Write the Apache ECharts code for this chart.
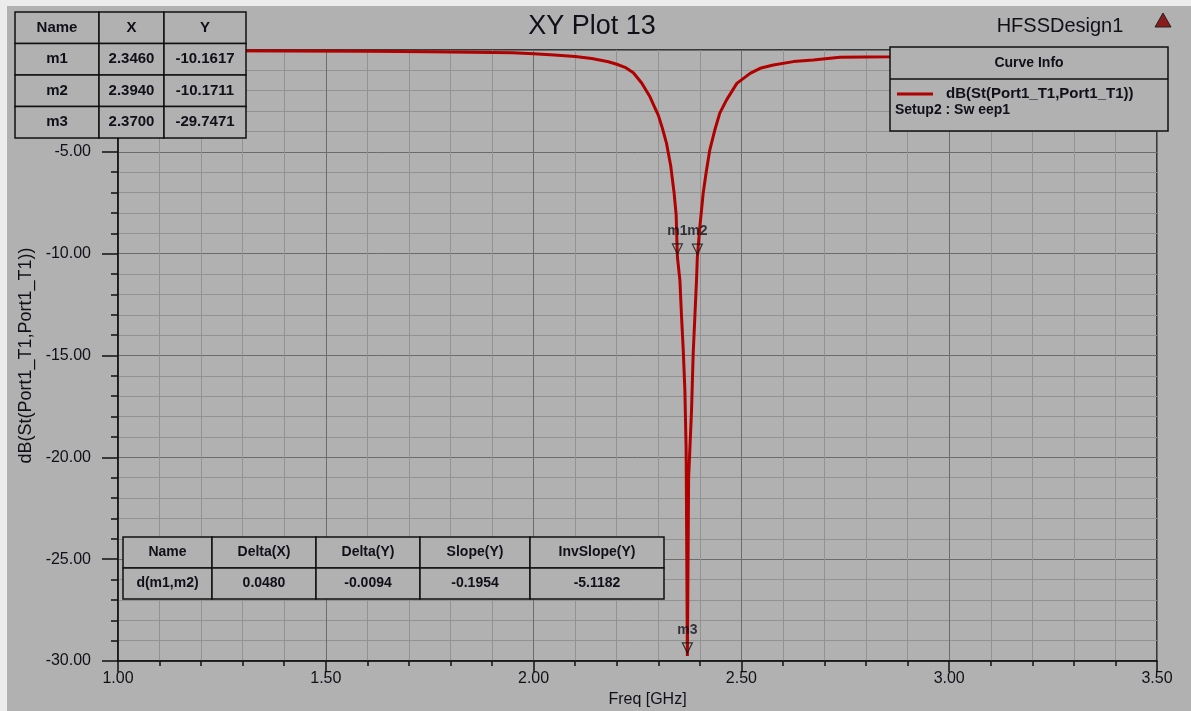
<!DOCTYPE html>
<html>
<head>
<meta charset="utf-8">
<title>XY Plot 13</title>
<script src="https://cdn.jsdelivr.net/npm/echarts@6/dist/echarts.min.js"></script>
<style>
  html, body { margin: 0; padding: 0; background: #b1b1b1; }
  #main { width: 1191px; height: 711px; }
</style>
</head>
<body>
<div id="main"></div>
<script>
// dB(St(Port1_T1,Port1_T1)) sweep
var freqs = [1.00, 1.20, 1.40, 1.60, 1.75, 1.85, 1.95, 2.00, 2.05, 2.10, 2.14, 2.18, 2.20, 2.22, 2.24, 2.26,
  2.28, 2.29, 2.30, 2.31, 2.32, 2.33, 2.338, 2.343, 2.346, 2.352, 2.356, 2.360, 2.364, 2.367, 2.370,
  2.373, 2.376, 2.380, 2.384, 2.388, 2.392, 2.394, 2.400, 2.408, 2.415, 2.424, 2.436, 2.448, 2.464,
  2.489, 2.521, 2.545, 2.577, 2.625, 2.673, 2.737, 2.857, 3.00, 3.20, 3.50];
var s11 = [-0.04, -0.04, -0.05, -0.06, -0.08, -0.11, -0.14, -0.18, -0.24, -0.32, -0.42, -0.58, -0.70, -0.85, -1.12, -1.62,
  -2.30, -2.75, -3.20, -3.85, -4.60, -5.70, -7.00, -8.10, -10.16, -11.30, -13.10, -14.70, -16.70, -19.60, -29.75,
  -21.00, -19.60, -17.70, -14.90, -13.10, -11.30, -10.17, -8.68, -7.04, -6.04, -4.90, -3.93, -3.10, -2.46,
  -1.64, -1.15, -0.90, -0.74, -0.57, -0.49, -0.36, -0.33, -0.28, -0.25, -0.22];

// markers
var markerNames = ['m1', 'm2', 'm3'];
var markerX = [2.3460, 2.3940, 2.3700];
var markerY = [-10.1617, -10.1711, -29.7471];

// delta marker table
var deltaHeads = ['Name', 'Delta(X)', 'Delta(Y)', 'Slope(Y)', 'InvSlope(Y)'];
var deltaName = 'd(m1,m2)';
var deltaVals = [0.0480, -0.0094, -0.1954, -5.1182];

// axes
var xRange = [1.0, 3.5];
var yRange = [-30, 0];

var BG = '#b1b1b1';
var INK = '#101018';
var RED = '#b00000';
var FONT = '"Liberation Sans", Arial, sans-serif';

// table built out of rect + text cells
function table(x0, y0, widths, h, rows, font) {
  var els = [];
  rows.forEach(function (row, r) {
    var x = x0;
    row.forEach(function (txt, c) {
      els.push({
        type: 'rect', z: 100,
        shape: {x: x, y: y0 + r * h, width: widths[c], height: h},
        style: {fill: BG, stroke: '#111', lineWidth: 1.5}
      });
      els.push({
        type: 'text', z: 101,
        x: x + widths[c] / 2, y: y0 + r * h + h / 2,
        style: {text: txt, font: font, fill: INK, align: 'center', verticalAlign: 'middle',
          textAlign: 'center', textVerticalAlign: 'middle'}
      });
      x += widths[c];
    });
  });
  return els;
}

var markerRows = [['Name', 'X', 'Y']];
markerNames.forEach(function (n, i) {
  markerRows.push([n, markerX[i].toFixed(4), markerY[i].toFixed(4)]);
});
var deltaRows = [deltaHeads, [deltaName].concat(deltaVals.map(function (v) { return v.toFixed(4); }))];

var graphics = []
  .concat(table(15, 12, [84, 65, 82], 31.5, markerRows, 'bold 15px ' + FONT))
  .concat(table(123, 537, [89, 104, 104, 110, 134], 31, deltaRows, 'bold 14px ' + FONT))
  .concat([
    // light strip of the screenshot border
    {type: 'rect', z: 120, shape: {x: 0, y: 0, width: 1191, height: 6}, style: {fill: '#ececec'}},
    {type: 'rect', z: 120, shape: {x: 0, y: 0, width: 7, height: 711}, style: {fill: '#ececec'}},
    // curve info box
    {type: 'rect', z: 100, shape: {x: 890, y: 47, width: 278, height: 84},
      style: {fill: BG, stroke: '#111', lineWidth: 1.5}},
    {type: 'line', z: 101, shape: {x1: 890, y1: 79, x2: 1168, y2: 79},
      style: {stroke: '#111', lineWidth: 1.5}},
    {type: 'text', z: 101, x: 1029, y: 63,
      style: {text: 'Curve Info', font: 'bold 14px ' + FONT, fill: INK, align: 'center', verticalAlign: 'middle',
        textAlign: 'center', textVerticalAlign: 'middle'}},
    {type: 'line', z: 101, shape: {x1: 897, y1: 94, x2: 933, y2: 94},
      style: {stroke: RED, lineWidth: 3}},
    {type: 'text', z: 101, x: 946, y: 94,
      style: {text: 'dB(St(Port1_T1,Port1_T1))', font: 'bold 15px ' + FONT, fill: INK, align: 'left', verticalAlign: 'middle',
        textAlign: 'left', textVerticalAlign: 'middle'}},
    {type: 'text', z: 101, x: 895, y: 110,
      style: {text: 'Setup2 : Sw eep1', font: 'bold 14px ' + FONT, fill: INK, align: 'left', verticalAlign: 'middle',
        textAlign: 'left', textVerticalAlign: 'middle'}},
    // title + design name
    {type: 'text', z: 101, x: 592, y: 27,
      style: {text: 'XY Plot 13', font: '27px ' + FONT, fill: INK, align: 'center', verticalAlign: 'middle',
        textAlign: 'center', textVerticalAlign: 'middle'}},
    {type: 'text', z: 101, x: 1060, y: 26,
      style: {text: 'HFSSDesign1', font: '20px ' + FONT, fill: INK, align: 'center', verticalAlign: 'middle',
        textAlign: 'center', textVerticalAlign: 'middle'}},
    {type: 'polygon', z: 101, shape: {points: [[1163, 13], [1155, 27], [1171, 27]]},
      style: {fill: '#8b1a1a', stroke: '#222', lineWidth: 1}}
  ]);

var chart = echarts.init(document.getElementById('main'));
chart.setOption({
  backgroundColor: BG,
  animation: false,
  grid: {left: 118, right: 34, top: 50, bottom: 50, containLabel: false, outerBoundsMode: 'none',
    show: true, borderColor: '#111', borderWidth: 1.5},
  xAxis: {
    type: 'value', min: xRange[0], max: xRange[1], interval: 0.5,
    name: 'Freq [GHz]', nameLocation: 'middle', nameGap: 31,
    nameTextStyle: {color: INK, fontSize: 16, fontFamily: FONT, padding: [0, 0, 0, 20]},
    axisLine: {show: true, onZero: false, lineStyle: {color: '#111', width: 1.5}},
    axisTick: {show: true, length: 11, lineStyle: {color: '#111', width: 1.5}},
    minorTick: {show: true, splitNumber: 5, length: 5, lineStyle: {color: '#111', width: 1.5}},
    axisLabel: {color: INK, fontSize: 16, fontFamily: FONT, margin: 10,
      formatter: function (v) { return v.toFixed(2); }},
    splitLine: {show: true, lineStyle: {color: '#6c6c6c', width: 1}},
    minorSplitLine: {show: true, lineStyle: {color: '#929292', width: 1}}
  },
  yAxis: {
    type: 'value', min: yRange[0], max: yRange[1], interval: 5,
    name: 'dB(St(Port1_T1,Port1_T1))', nameLocation: 'middle', nameGap: 75,
    nameTextStyle: {color: INK, fontSize: 18, fontFamily: FONT},
    axisLine: {show: true, onZero: false, lineStyle: {color: '#111', width: 1.5}},
    axisTick: {show: true, length: 16, lineStyle: {color: '#111', width: 1.5}},
    minorTick: {show: true, splitNumber: 5, length: 7, lineStyle: {color: '#111', width: 1.5}},
    axisLabel: {color: INK, fontSize: 16, fontFamily: FONT, margin: 27,
      formatter: function (v) { return v === 0 ? '' : v.toFixed(2); }},
    splitLine: {show: true, lineStyle: {color: '#6c6c6c', width: 1}},
    minorSplitLine: {show: true, lineStyle: {color: '#929292', width: 1}}
  },
  series: [
    {
      name: 'dB(St(Port1_T1,Port1_T1))',
      type: 'line',
      showSymbol: false,
      data: freqs.map(function (f, i) { return [f, s11[i]]; }),
      lineStyle: {color: RED, width: 3},
      z: 3
    },
    {
      name: 'markers',
      type: 'scatter',
      data: markerNames.map(function (n, i) { return {name: n, value: [markerX[i], markerY[i]]}; }),
      symbol: 'path://M0,0 L10,0 L5,10 Z',
      symbolSize: [10, 10],
      symbolOffset: [0, -8],
      itemStyle: {color: 'rgba(0,0,0,0)', borderColor: '#111', borderWidth: 1.2},
      label: {show: true, position: 'top', distance: 5, formatter: '{b}',
        color: INK, fontSize: 14, fontWeight: 'bold', fontFamily: FONT},
      z: 5
    }
  ],
  graphic: graphics
});
</script>
</body>
</html>
